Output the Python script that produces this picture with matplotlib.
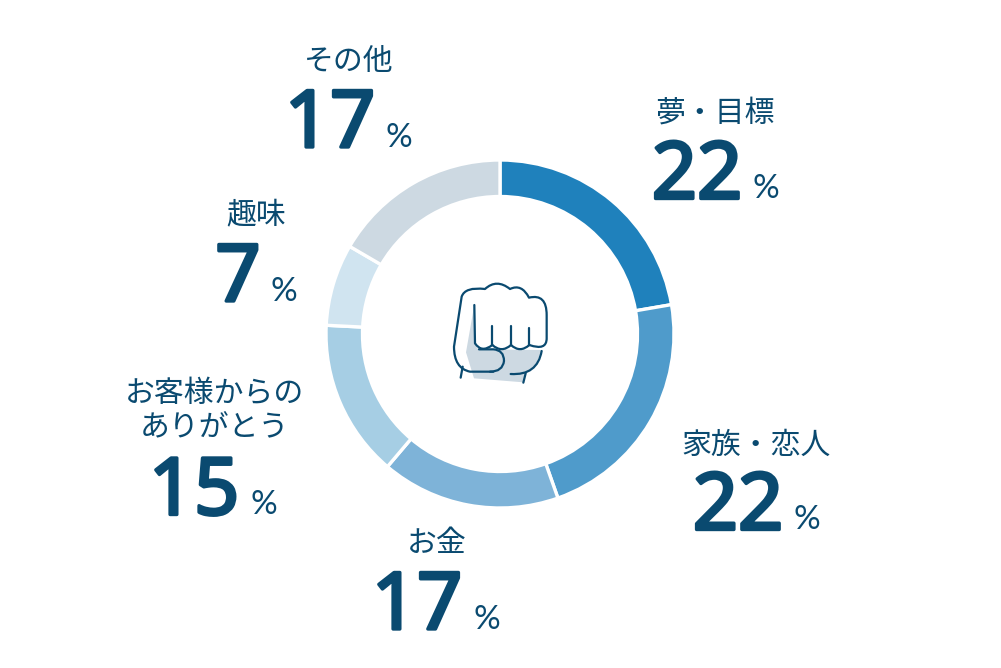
import matplotlib
matplotlib.use("Agg")
import matplotlib.pyplot as plt
import matplotlib.patheffects as pe
from matplotlib.path import Path
from matplotlib.patches import PathPatch, Polygon

categories = ["夢・目標", "家族・恋人", "お金", "お客様からの\nありがとう", "趣味", "その他"]
labels = [22, 22, 17, 15, 7, 17]
shares = [22.3, 22.3, 16.6, 14.6, 7.6, 16.6]
colors = ["#1F81BC", "#4F9BCB", "#7EB3D8", "#A6CEE4", "#D0E4F0", "#CDD9E2"]
INK = "#0A4A70"
H = 668

fig = plt.figure(figsize=(10.01, 6.68), dpi=100)
ax = fig.add_axes([0, 0, 1, 1])
ax.pie(shares, colors=colors, startangle=90, counterclock=False, center=(500, 334), radius=174,
       wedgeprops=dict(width=36.5, edgecolor="white", linewidth=2.4))
ax.set_xlim(0, 1001)
ax.set_ylim(0, H)
ax.set_aspect("equal")
ax.axis("off")

# label centre, number centre, number baseline, percent centre, percent baseline
layout = [
    (715, 113.5, 697, 198.5, 766, 198),
    (756, 445.5, 738, 529.5, 807, 529),
    (437, 543.5, 417, 629, 487, 629),
    (214, 410.5, 194, 514.5, 264, 514),
    (256, 215.5, 238, 301, 284, 301),
    (349, 61.5, 330, 147, 399, 147),
]
for cat, val, (lx, ly, nx, ny, px, py) in zip(categories, labels, layout):
    ax.text(lx, H - ly, cat, ha="center", va="center", color=INK, fontsize=21.5,
            family=["Noto Sans CJK JP", "DejaVu Sans"], linespacing=1.1)
    ax.text(nx, H - ny, str(val), ha="center", va="baseline", color=INK, fontsize=57,
            family="Noto Sans",
            path_effects=[pe.withStroke(linewidth=2.4, foreground=INK, capstyle="round", joinstyle="round")])
    ax.text(px, H - py, "%", ha="center", va="baseline", color=INK, fontsize=24,
            family="Lato", fontweight="normal")

# fist icon
def P(x, y):
    return (430 + x / 3, H - (265 + y / 3))

def stroke(start, *segs):
    verts, codes = [P(*start)], [Path.MOVETO]
    for s in segs:
        if len(s) == 1:
            verts.append(P(*s[0])); codes.append(Path.LINETO)
        else:
            verts += [P(*q) for q in s]; codes += [Path.CURVE3] * 2
    ax.add_patch(PathPatch(Path(verts, codes), fill=False, ec=INK, lw=1.6, capstyle="round", joinstyle="round"))

ax.add_patch(Polygon([P(*q) for q in [(132, 125), (108, 262), (132, 340), (280, 352), (288, 325), (315, 305),
                                      (335, 255), (145, 253), (135, 240)]], closed=True, fc="#CDD9E2", ec="none"))
stroke((190, 320), [(120, 320)], [(72, 310), (72, 245)], [(95, 95)], [(105, 65), (165, 72)],
       [(200, 40), (240, 72)], [(275, 55), (297, 98)], [(350, 85), (350, 150)], [(350, 220)],
       [(350, 258), (298, 240)])
stroke((298, 240), [(270, 265), (243, 240)])
stroke((243, 240), [(215, 265), (187, 240)])
stroke((187, 240), [(155, 265), (135, 235)], [(133, 120)])
stroke((187, 183), [(187, 240)])
stroke((243, 183), [(243, 240)])
stroke((297, 190), [(297, 240)])
stroke((147, 253), [(190, 253)], [(222, 255), (222, 288)], [(218, 320), (180, 320)])
stroke((335, 258), [(322, 332), (242, 327)])
stroke((287, 325), [(280, 353)])
stroke((98, 305), [(92, 338)])

fig.savefig("out.png", dpi=100, facecolor="white")
